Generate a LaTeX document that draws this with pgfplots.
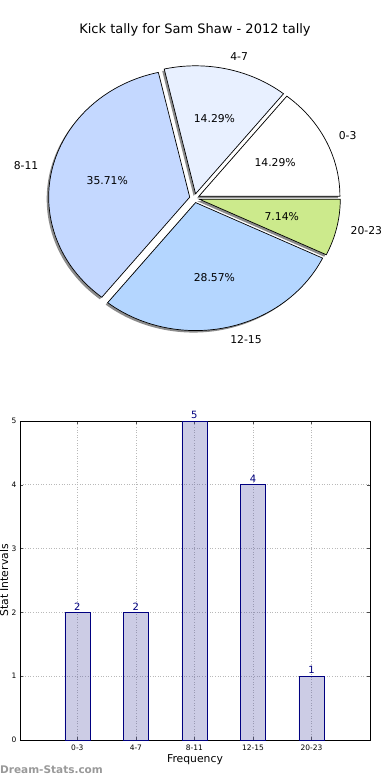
\documentclass[border=0pt]{standalone}
\usepackage{pgfplots}
\pgfplotsset{compat=1.18}
\usepackage{pgfplotstable}
\usepackage{fontspec}
\setmainfont{DejaVu Sans}

\definecolor{sl0}{HTML}{FFFFFF}
\definecolor{sl1}{HTML}{E8F0FF}
\definecolor{sl2}{HTML}{C4D8FF}
\definecolor{sl3}{HTML}{B4D6FF}
\definecolor{sl4}{HTML}{CCEA8C}
\definecolor{barfill}{RGB}{85,85,168}
\definecolor{baredge}{HTML}{000080}

\pgfplotstableread{
idx lab val col
0 0-3 2 sl0
1 4-7 2 sl1
2 8-11 5 sl2
3 12-15 4 sl3
4 20-23 1 sl4
}\piedata

\pgfkeys{/pgf/number format/assume math mode=true}

\begin{document}
\begin{tikzpicture}
\useasboundingbox (0pt,0pt) rectangle (390pt,780pt);
% ---- compute pie slices from the table ----
\def\total{0}
\pgfplotsforeachungrouped \i in {0,...,4}{%
  \pgfplotstablegetelem{\i}{val}\of\piedata
  \pgfmathsetmacro\total{\total+\pgfplotsretval}%
}
\def\cum{0}
\gdef\shadowcmds{}
\gdef\slicecmds{}
\pgfplotsforeachungrouped \i in {0,...,4}{%
  \pgfplotstablegetelem{\i}{val}\of\piedata \let\slval\pgfplotsretval
  \pgfplotstablegetelem{\i}{lab}\of\piedata \let\sllab\pgfplotsretval
  \pgfplotstablegetelem{\i}{col}\of\piedata \let\slcol\pgfplotsretval
  \pgfmathsetmacro\sA{\cum/\total*360}%
  \pgfmathsetmacro\cum{\cum+\slval}%
  \pgfmathsetmacro\sB{\cum/\total*360}%
  \pgfmathsetmacro\sM{(\sA+\sB)/2}%
  \pgfmathsetmacro\cmv{cos(\sM)}%
  \pgfmathsetmacro\smv{sin(\sM)}%
  \pgfmathsetmacro\cx{194.5+4.9*\cmv}%
  \pgfmathsetmacro\cy{581.8+4.5*\smv}%
  \pgfmathsetmacro\lx{\cx+155.1*\cmv}%
  \pgfmathsetmacro\ly{\cy+140.8*\smv}%
  \pgfmathsetmacro\px{\cx+84.6*\cmv}%
  \pgfmathsetmacro\py{\cy+76.8*\smv}%
  \pgfmathsetmacro\pct{\slval/\total*100}%
  \ifdim\cmv pt>0pt \def\anc{west}\else\def\anc{east}\fi
  \xdef\shadowcmds{\unexpanded\expandafter{\shadowcmds}%
    \noexpand\fill[black!45,xshift=-2pt,yshift=-2pt] (axis cs:\cx,\cy) -- ++(\sA:141pt and 128pt)
      arc[start angle=\sA, end angle=\sB, x radius=141pt, y radius=128pt] -- cycle;}%
  \xdef\slicecmds{\unexpanded\expandafter{\slicecmds}%
    \noexpand\filldraw[fill=\slcol,draw=black,line width=0.7pt] (axis cs:\cx,\cy) -- ++(\sA:141pt and 128pt)
      arc[start angle=\sA, end angle=\sB, x radius=141pt, y radius=128pt] -- cycle;
    \noexpand\node[anchor=\anc,inner sep=0pt,font=\noexpand\fontsize{10.8}{13}\noexpand\selectfont] at (axis cs:\lx,\ly) {\sllab};
    \noexpand\node[anchor=center,inner sep=0pt,font=\noexpand\fontsize{10.8}{13}\noexpand\selectfont] at (axis cs:\px,\py)
      {\noexpand\pgfmathprintnumber[fixed,fixed zerofill,precision=2]{\pct}\noexpand\%};}%
}
% ---- pie axis (pixel-like units) ----
\begin{axis}[
  at={(0pt,0pt)}, anchor=south west,
  x=1pt, y=1pt, xmin=0, xmax=390, ymin=0, ymax=780,
  enlargelimits=false, hide axis, clip=false]
  \shadowcmds
  \slicecmds
\end{axis}
\node[font=\fontsize{13}{15}\selectfont] at (195pt,750pt) {Kick tally for Sam Shaw - 2012 tally};
% ---- bar axis ----
\begin{axis}[
  at={(20pt,40pt)}, anchor=south west,
  scale only axis, width=350pt, height=319pt,
  xmin=-0.98, xmax=5, ymin=0, ymax=5,
  xtick={0,...,4},
  xticklabels from table={\piedata}{lab},
  ytick={0,...,5},
  grid=major,
  major grid style={gray!55, dash pattern=on 1pt off 1.6pt, line width=0.7pt},
  tick align=inside, major tick length=3pt,
  tick style={black!70, line width=0.5pt},
  axis line style={black, line width=0.8pt},
  tick label style={font=\fontsize{7.5}{9}\selectfont},
  xticklabel style={yshift=-1pt},
  label style={font=\fontsize{10.8}{13}\selectfont},
  xlabel={Frequency},
  ylabel={Stat Intervals},
  xlabel style={at={(axis description cs:0.5,-0.0721)}, anchor=base},
  ylabel style={at={(axis description cs:-0.0457,0.5)}, anchor=center},
  clip=false]
\addplot[ybar, bar width=25pt, fill=barfill, fill opacity=0.3, draw=baredge, draw opacity=1, line width=0.7pt,
  nodes near coords,
  nodes near coords style={text=baredge, text opacity=1, font=\fontsize{10}{12}\selectfont, inner sep=2pt}]
  table[x=idx, y=val]{\piedata};
\end{axis}
\node[anchor=west, inner sep=0pt, text=black!40, font=\bfseries\fontsize{10.5}{12}\selectfont] at (0pt,10pt) {Dream-Stats.com};
\end{tikzpicture}
\end{document}
